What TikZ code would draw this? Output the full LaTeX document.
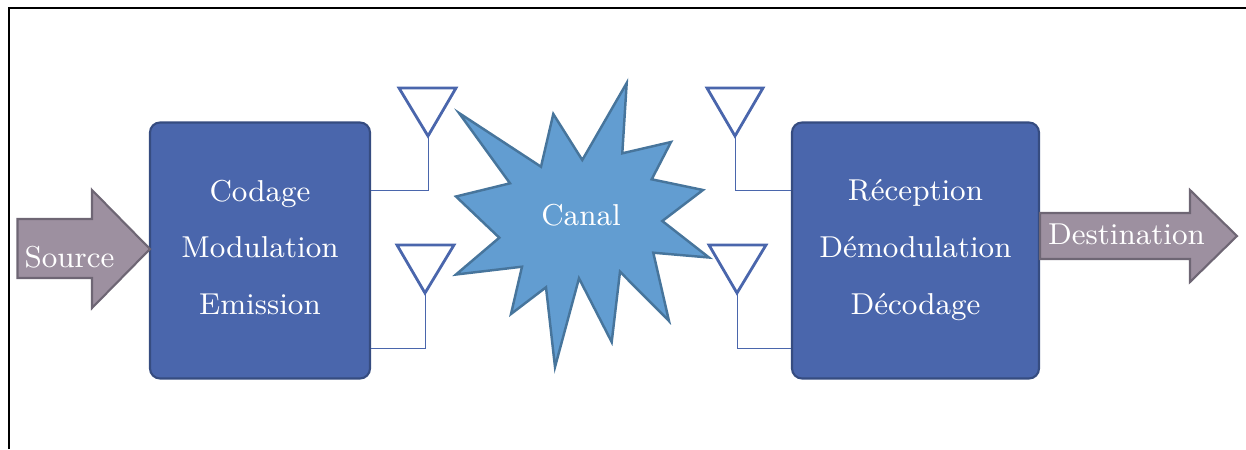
\documentclass[tikz,border=0pt]{standalone}
\definecolor{boxblue}{HTML}{4A66AC}
\definecolor{boxedge}{HTML}{364C80}
\definecolor{canalblue}{HTML}{629DD1}
\definecolor{canaledge}{HTML}{47759C}
\definecolor{arrowgrey}{HTML}{9D90A0}
\definecolor{arrowedge}{HTML}{6E6674}
\tikzset{
  block/.style={draw=boxedge, fill=boxblue, line width=0.6pt, rounded corners=0.1cm, text=white, align=center,
    minimum height=2.56cm, text depth=2pt, font=\fontsize{8.6}{16.1}\selectfont},
  bigarrow/.style={draw=arrowedge, fill=arrowgrey, line width=0.6pt, line join=miter},
  antenna/.style={draw=boxblue, line width=0.8pt, line join=miter},
  wire/.style={draw=boxblue, line width=0.25pt},
  whitetext/.style={text=white, font=\fontsize{8.6}{12}\selectfont}
}
\begin{document}
\begin{tikzpicture}
  \useasboundingbox (0, 0) rectangle (12.46, 4.49);
  \draw[line width=0.65pt] (0.09, 0) -- (0.09, 4.41) -- (12.46, 4.41);

  \node[block, minimum width=2.20cm] (coder) at (2.60, 1.985) {Codage\\Modulation\\Emission};
  \node[block, minimum width=2.47cm] (decoder) at (9.155, 1.985) {Réception\\Démodulation\\Décodage};

  \coordinate (txup) at (4.28, 3.13);
  \coordinate (txdown) at (4.25, 1.56);
  \coordinate (rxup) at (7.35, 3.13);
  \coordinate (rxdown) at (7.37, 1.56);

  \draw[antenna] (3.99, 3.61) -- (4.56, 3.61) -- (txup) -- cycle;
  \draw[antenna] (3.97, 2.04) -- (4.54, 2.04) -- (txdown) -- cycle;
  \draw[antenna] (7.07, 3.61) -- (7.63, 3.61) -- (rxup) -- cycle;
  \draw[antenna] (7.09, 2.04) -- (7.66, 2.04) -- (rxdown) -- cycle;

  \draw[wire] (txup) |- (coder.east |- 0, 2.59);
  \draw[wire] (txdown) |- (coder.east |- 0, 1.01);
  \draw[wire] (rxup) |- (decoder.west |- 0, 2.59);
  \draw[wire] (rxdown) |- (decoder.west |- 0, 1.01);

  \draw[bigarrow] (0.175, 1.71) -- (0.175, 2.30) -- (0.92, 2.30) -- (0.92, 2.59) -- (1.50, 2.00)
    -- (0.92, 1.41) -- (0.92, 1.71) -- cycle;
  \node[whitetext] (source) at (0.695, 1.92) {Source};

  \draw[bigarrow] (decoder.east |- 0, 1.90) -- (decoder.east |- 0, 2.36) -- (11.90, 2.36) -- (11.90, 2.59)
    -- (12.37, 2.13) -- (11.90, 1.67) -- (11.90, 1.90) -- cycle;
  \node[whitetext] (destination) at (11.265, 2.15) {Destination};

  \draw[draw=canaledge, fill=canalblue, line width=0.7pt, line join=miter]
    (4.59, 3.36) -- (5.41, 2.823) -- (5.533, 3.35) -- (5.823, 2.89) -- (6.267, 3.66)
    -- (6.223, 2.957) -- (6.71, 3.07) -- (6.517, 2.697) -- (7.03, 2.59) -- (6.623, 2.28)
    -- (7.09, 1.915) -- (6.533, 1.963) -- (6.69, 1.28) -- (6.20, 1.773) -- (6.117, 1.07)
    -- (5.79, 1.707) -- (5.55, 0.82) -- (5.46, 1.617) -- (5.11, 1.35) -- (5.22, 1.823)
    -- (4.56, 1.745) -- (4.993, 2.113) -- (4.56, 2.525) -- (5.10, 2.657) -- cycle;
  \node[whitetext] (canal) at (5.81, 2.34) {Canal};
\end{tikzpicture}
\end{document}
